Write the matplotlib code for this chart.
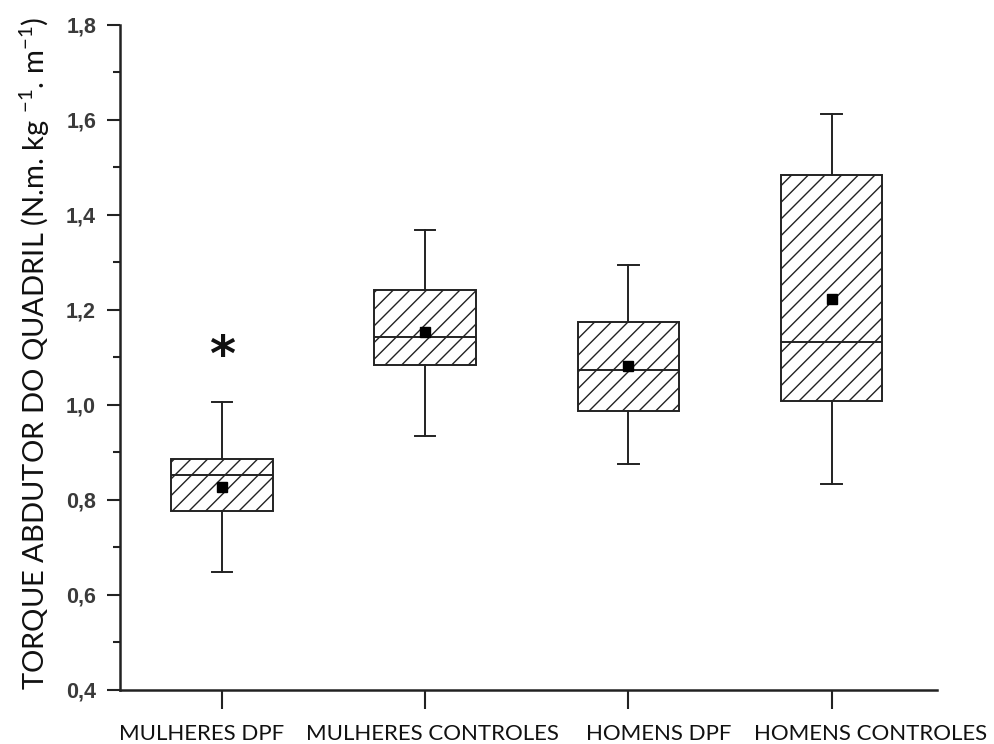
import matplotlib
matplotlib.use("Agg")
import matplotlib.pyplot as plt
from matplotlib.ticker import MultipleLocator, FuncFormatter
from matplotlib.transforms import ScaledTranslation

# values
groups = ["MULHERES DPF", "MULHERES CONTROLES", "HOMENS DPF", "HOMENS CONTROLES"]
whisker_low = [0.648, 0.933, 0.874, 0.832]
q1 = [0.777, 1.084, 0.987, 1.008]
median = [0.851, 1.143, 1.072, 1.131]
q3 = [0.886, 1.242, 1.173, 1.484]
whisker_high = [1.006, 1.368, 1.293, 1.611]
mean = [0.827, 1.152, 1.082, 1.223]
star_group = 1
star_y = 1.10

stats = [
    {"whislo": lo, "q1": a, "med": m, "q3": b, "whishi": hi, "mean": mu, "fliers": [], "label": g}
    for g, lo, a, m, b, hi, mu in zip(groups, whisker_low, q1, median, q3, whisker_high, mean)
]

plt.rcParams["hatch.linewidth"] = 1.0
fig = plt.figure(figsize=(9.95, 7.44), dpi=100)
ax = fig.add_axes([0.121, 0.073, 0.821, 0.894])

ax.bxp(
    stats,
    positions=range(1, len(groups) + 1),
    widths=0.5,
    capwidths=0.1,
    showmeans=True,
    patch_artist=True,
    boxprops=dict(facecolor="white", edgecolor="#222222", linewidth=1.4, hatch="//"),
    medianprops=dict(color="#222222", linewidth=1.4),
    whiskerprops=dict(color="#222222", linewidth=1.4),
    capprops=dict(color="#222222", linewidth=1.4),
    meanprops=dict(marker="s", markerfacecolor="black", markeredgecolor="black", markersize=6.5),
)

ax.text(star_group, star_y, "*", ha="center", va="center", fontsize=36, fontweight="bold", color="#111111")

ax.set_xlim(0.5, 4.52)
ax.set_ylim(0.4, 1.8)
ax.yaxis.set_major_locator(MultipleLocator(0.2))
ax.yaxis.set_minor_locator(MultipleLocator(0.1))
ax.yaxis.set_major_formatter(FuncFormatter(lambda v, _: f"{v:.1f}".replace(".", ",")))

for side in ("top", "right"):
    ax.spines[side].set_visible(False)
for side in ("left", "bottom"):
    ax.spines[side].set_linewidth(1.8)
    ax.spines[side].set_color("#222222")

ax.tick_params(axis="y", which="major", length=9.5, width=1.5, color="#222222",
               labelsize=15.5, labelcolor="#3a3a3a", pad=8)
ax.tick_params(axis="y", which="minor", length=5, width=1.5, color="#222222")
ax.tick_params(axis="x", which="major", length=14, width=1.5, color="#222222",
               labelsize=16, labelcolor="#111111", pad=11)
for lbl in ax.get_yticklabels():
    lbl.set_fontfamily("Liberation Sans")
    lbl.set_fontweight("bold")

# the category labels in the original sit a little off their ticks
label_shift_px = [-20, 7, 30, 39]
for lbl, dx in zip(ax.get_xticklabels(), label_shift_px):
    lbl.set_fontfamily("Lato")
    lbl.set_transform(lbl.get_transform() + ScaledTranslation(dx / 100, 0, fig.dpi_scale_trans))

ax.set_ylabel("TORQUE ABDUTOR DO QUADRIL (N.m. kg $^{\\mathregular{-1}}$. m$^{\\mathregular{-1}}$)",
              fontsize=21, family="Lato", color="#111111")
ax.yaxis.set_label_coords(-0.084, 0.505)

fig.savefig("out.png", dpi=100, facecolor="white")
